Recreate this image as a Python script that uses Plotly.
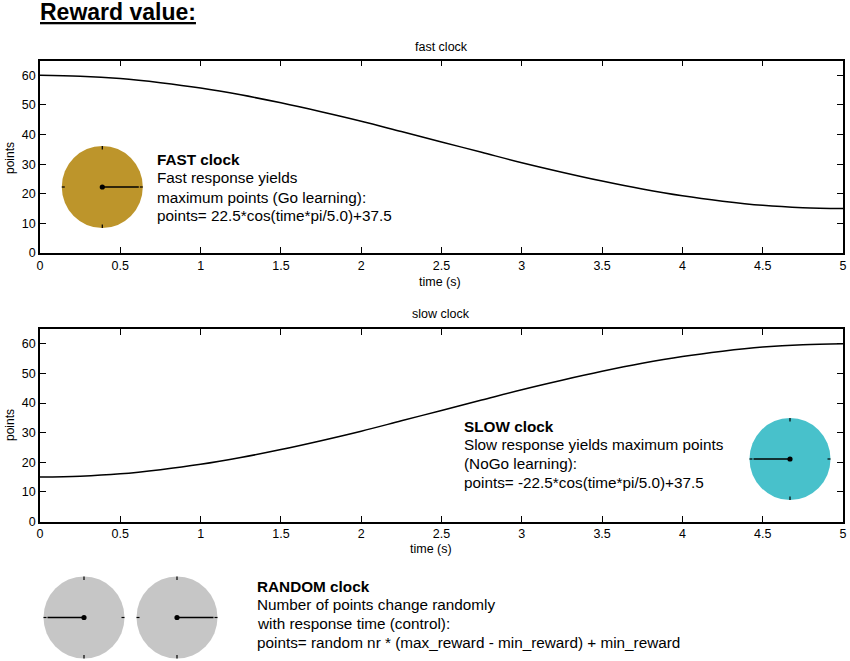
import plotly.graph_objects as go

W, H = 850, 661

# values
time_s = [0, 0.25, 0.5, 0.75, 1, 1.25, 1.5, 1.75, 2, 2.25, 2.5,
          2.75, 3, 3.25, 3.5, 3.75, 4, 4.25, 4.5, 4.75, 5]
fast_points = [60, 59.7, 58.9, 57.5, 55.7, 53.4, 50.7, 47.7, 44.5, 41, 37.5,
               34, 30.5, 27.3, 24.3, 21.6, 19.3, 17.5, 16.1, 15.3, 15]
slow_points = [15, 15.3, 16.1, 17.5, 19.3, 21.6, 24.3, 27.3, 30.5, 34, 37.5,
               41, 44.5, 47.7, 50.7, 53.4, 55.7, 57.5, 58.9, 59.7, 60]

x_ticks = [0, 0.5, 1, 1.5, 2, 2.5, 3, 3.5, 4, 4.5, 5]
x_labels = ["0", "0.5", "1", "1.5", "2", "2.5", "3", "3.5", "4", "4.5", "5"]
y_ticks = [0, 10, 20, 30, 40, 50, 60]

FONT = "Liberation Sans"


def px(x):
    return x / W


def py(y):
    return 1 - y / H


fig = go.Figure()
fig.add_trace(go.Scatter(x=time_s, y=fast_points, mode="lines", xaxis="x", yaxis="y",
                         line=dict(color="black", width=1.5, shape="spline")))
fig.add_trace(go.Scatter(x=time_s, y=slow_points, mode="lines", xaxis="x2", yaxis="y2",
                         line=dict(color="black", width=1.5, shape="spline")))

axis_style = dict(showgrid=False, zeroline=False, showline=True, linecolor="black", linewidth=1.5,
                  ticks="inside", ticklen=6, tickwidth=1.3, tickcolor="black", mirror="allticks",
                  automargin=False,
                  tickfont=dict(family=FONT, size=12.5, color="black"))
x_style = dict(axis_style, range=[0, 5], tickmode="array", tickvals=x_ticks, ticktext=x_labels)
y_style = dict(axis_style, range=[0, 65], tickmode="array", tickvals=y_ticks)

fig.update_layout(
    width=W, height=H, autosize=False, showlegend=False,
    margin=dict(l=0, r=0, t=0, b=0),
    paper_bgcolor="white", plot_bgcolor="white",
    xaxis=dict(x_style, domain=[px(40), px(843)], anchor="y"),
    yaxis=dict(y_style, domain=[py(253), py(60.5)], anchor="x"),
    xaxis2=dict(x_style, domain=[px(40), px(843)], anchor="y2"),
    yaxis2=dict(y_style, domain=[py(521.5), py(329)], anchor="x2"),
)


# ---------- clock faces ----------
def clock(cx, cy, color, hand_dir):
    r = 40.5
    shapes = [dict(type="circle", xref="paper", yref="paper",
                   x0=px(cx - r), x1=px(cx + r), y0=py(cy + r + 0.5), y1=py(cy - r - 0.5),
                   fillcolor=color, line=dict(width=0))]
    # four little marks on the rim
    for dx, dy in [(1, 0), (-1, 0), (0, 1), (0, -1)]:
        shapes.append(dict(type="line", xref="paper", yref="paper",
                           x0=px(cx + dx * (r - 3)), x1=px(cx + dx * r),
                           y0=py(cy + dy * (r - 3)), y1=py(cy + dy * (r + 0.5)),
                           line=dict(color="black", width=1.2)))
    # hand and pivot
    shapes.append(dict(type="line", xref="paper", yref="paper",
                       x0=px(cx), x1=px(cx + hand_dir * (r - 4)), y0=py(cy), y1=py(cy),
                       line=dict(color="black", width=1.6)))
    shapes.append(dict(type="circle", xref="paper", yref="paper",
                       x0=px(cx - 2.6), x1=px(cx + 2.6), y0=py(cy + 2.6), y1=py(cy - 2.6),
                       fillcolor="black", line=dict(width=0)))
    return shapes


shapes = []
shapes += clock(102.3, 187, "#bd952b", 1)
shapes += clock(790, 459, "#48c1cb", -1)
shapes += clock(84, 617.5, "#c6c6c6", -1)
shapes += clock(177, 617.5, "#c6c6c6", 1)
fig.update_layout(shapes=shapes)


# ---------- text ----------
def label(x, y, text, size=15.3, xanchor="left", **kw):
    fig.add_annotation(x=px(x), y=py(y), xref="paper", yref="paper", text=text, showarrow=False,
                       xanchor=xanchor, yanchor="middle", align="left", borderpad=0, borderwidth=0,
                       font=dict(family=FONT, size=size, color="black"), **kw)


label(40, 12, "<b><u>Reward value:</u></b>", size=23)

label(441, 47, "fast clock", size=12.5, xanchor="center")
label(441, 314, "slow clock", size=12.5, xanchor="center")
label(440, 282, "time (s)", size=12.5, xanchor="center")
label(431, 549, "time (s)", size=12.5, xanchor="center")
label(10, 158, "points", size=12, xanchor="center", textangle=-90)
label(10, 425, "points", size=12, xanchor="center", textangle=-90)

label(157, 159, "<b>FAST clock</b>")
label(157, 178, "Fast response yields")
label(157, 197, "maximum points (Go learning):")
label(157, 215, "points= 22.5*cos(time*pi/5.0)+37.5")

label(464, 426, "<b>SLOW clock</b>")
label(464, 444, "Slow response yields maximum points")
label(464, 463, "(NoGo learning):")
label(464, 482, "points= -22.5*cos(time*pi/5.0)+37.5")

label(257, 586, "<b>RANDOM clock</b>")
label(257, 604, "Number of points change randomly")
label(257, 623, "with response time (control):")
label(257, 642, "points= random nr * (max_reward - min_reward) + min_reward")

# the page's default body margin would push the figure 8px off and clip it
fig.write_html("out.html", config={"displayModeBar": False},
               post_script="document.body.style.margin = '0';")
